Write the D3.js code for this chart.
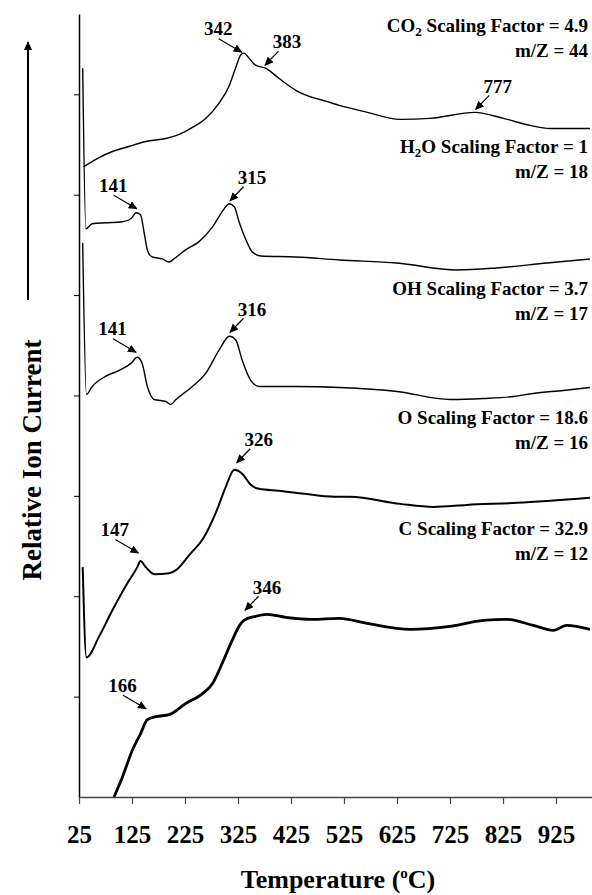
<!DOCTYPE html>
<html>
<head>
<meta charset="utf-8">
<script src="https://cdn.jsdelivr.net/npm/d3@7/dist/d3.min.js"></script>
<style>
  body { margin: 0; background: #fff; }
  text { font-family: "Liberation Serif", "Times New Roman", serif; font-weight: bold; fill: #000; }
</style>
</head>
<body>
<script>
// curves: [temperature (C), relative ion current incl. stacking offset]
var co2 = [[34,6.28],[63,6.37],[88,6.43],[119,6.48],[151,6.53],[189,6.56],[214,6.60],[239,6.67],[264,6.76],
  [289,6.91],[308,7.08],[321,7.27],[330,7.39],[336,7.41],[346,7.36],[358,7.29],[377,7.26],[402,7.16],[434,7.04],
  [465,6.97],[492,6.93],[516,6.89],[562,6.83],[631,6.75],[687,6.76],[772,6.82],[826,6.76],[876,6.69],[914,6.66],[989,6.66]];
var h2o = [[32,7.26],[38,5.66],[50,5.71],[75,5.72],[107,5.73],[123,5.76],[133,5.82],[141,5.80],[148,5.62],[154,5.45],
  [163,5.38],[182,5.36],[195,5.33],[204,5.36],[226,5.45],[251,5.53],[277,5.68],[299,5.86],[308,5.91],[318,5.88],
  [327,5.73],[340,5.55],[352,5.43],[368,5.39],[434,5.38],[516,5.35],[625,5.32],[738,5.25],[812,5.27],[908,5.32],[989,5.36]];
var oh = [[32,5.52],[39,4.01],[50,4.09],[75,4.19],[101,4.25],[123,4.32],[135,4.38],[144,4.32],[154,4.09],[167,3.96],
  [189,3.94],[198,3.91],[208,3.96],[239,4.09],[264,4.22],[289,4.45],[309,4.59],[321,4.55],[333,4.35],[349,4.15],
  [365,4.09],[434,4.09],[516,4.08],[625,4.04],[725,3.96],[788,3.97],[845,3.99],[882,4.02],[939,4.05],[989,4.08]];
var oxy = [[32,2.29],[39,1.39],[63,1.60],[88,1.86],[113,2.10],[135,2.29],[141,2.35],[151,2.29],[167,2.22],[195,2.23],
  [208,2.26],[233,2.41],[261,2.59],[283,2.83],[302,3.09],[318,3.26],[333,3.22],[349,3.11],[365,3.07],[402,3.05],
  [465,3.01],[516,2.99],[536,2.99],[631,2.92],[694,2.89],[757,2.91],[851,2.93],[989,2.98]];
var carb = [[91,0.0],[107,0.20],[126,0.47],[141,0.63],[154,0.77],[170,0.80],[195,0.82],[226,0.93],[258,1.03],
  [277,1.13],[295,1.33],[314,1.56],[327,1.70],[336,1.76],[358,1.80],[380,1.82],[415,1.79],[465,1.77],[516,1.78],
  [568,1.73],[650,1.67],[725,1.70],[788,1.76],[832,1.77],[882,1.71],[920,1.66],[945,1.71],[989,1.67]];

var xTicks = [25, 125, 225, 325, 425, 525, 625, 725, 825, 925];
var yTicks = [1, 2, 3, 4, 5, 6, 7];

// series labels
var specName = ["CO", "H", "OH", "O", "C"];
var specSub = ["2", "2", "", "", ""];
var specTail = ["", "O", "", "", ""];
var scaleFactor = ["4.9", "1", "3.7", "18.6", "32.9"];
var massCharge = ["44", "18", "17", "16", "12"];
var labelLevel = [7.62, 6.42, 5.00, 3.72, 2.61];

// peak annotations (arrow tip in data units)
var peakText = ["342", "383", "777", "141", "315", "141", "316", "326", "147", "346", "166"];
var peakT = [332, 376, 773.5, 134, 310, 132.6, 310, 322.6, 137, 338.3, 151.4];
var peakV = [7.42, 7.29, 6.85, 5.86, 5.94, 4.43, 4.63, 3.33, 2.43, 1.86, 0.88];
var peakSide = ["l", "r", "r", "l", "r", "l", "r", "r", "l", "r", "l"];

var svg = d3.select("body").append("svg")
  .attr("width", 592)
  .attr("height", 895);

var x = d3.scaleLinear().domain([25, 1000]).range([79, 595.75]);
var y = d3.scaleLinear().domain([0, 7.8]).range([797, 14]);

svg.append("defs").append("marker")
  .attr("id", "head")
  .attr("markerUnits", "userSpaceOnUse")
  .attr("markerWidth", 9).attr("markerHeight", 8)
  .attr("refX", 8).attr("refY", 4)
  .attr("orient", "auto")
  .append("path").attr("d", "M0,0L9,4L0,8Z").attr("fill", "#000");

// axes
var gy = svg.append("g")
  .attr("transform", "translate(79,0)")
  .call(d3.axisLeft(y).tickValues(yTicks).tickSize(5).tickSizeOuter(0).tickFormat(""));
gy.select(".domain").attr("stroke", "#000").attr("stroke-width", 1.5);
gy.selectAll(".tick line").attr("stroke", "#000");

var gx = svg.append("g")
  .attr("transform", "translate(0,797)")
  .call(d3.axisBottom(x).tickValues(xTicks).tickSizeInner(7).tickSizeOuter(0));
gx.select(".domain").attr("stroke", "#444").attr("stroke-width", 1.5);
gx.selectAll(".tick line").attr("stroke", "#444").attr("stroke-width", 1.2);
gx.selectAll(".tick text")
  .attr("y", 46).attr("dy", 0)
  .attr("font-size", 25)
  .attr("font-family", "Liberation Serif")
  .attr("font-weight", "bold")
  .attr("fill", "#000");

// curves
var line = d3.line()
  .x(function(d) { return x(d[0]); })
  .y(function(d) { return y(d[1]); })
  .curve(d3.curveMonotoneX);

var series = [co2, h2o, oh, oxy, carb];
var widths = [1.4, 1.4, 1.4, 2, 2.8];
series.forEach(function(s, i) {
  svg.append("path")
    .datum(s)
    .attr("d", line)
    .attr("fill", "none")
    .attr("stroke", "#000")
    .attr("stroke-width", widths[i])
    .attr("stroke-linejoin", "round");
});

// series labels
specName.forEach(function(n, i) {
  var t = svg.append("text")
    .attr("x", 588)
    .attr("y", y(labelLevel[i]))
    .attr("text-anchor", "end")
    .attr("font-size", 19);
  t.append("tspan").text(n);
  if (specSub[i]) {
    t.append("tspan").attr("font-size", 13).attr("dy", 4).text(specSub[i]);
    t.append("tspan").attr("dy", -4).text(specTail[i] + " Scaling Factor = " + scaleFactor[i]);
  } else {
    t.append("tspan").text(" Scaling Factor = " + scaleFactor[i]);
  }
  svg.append("text")
    .attr("x", 588)
    .attr("y", y(labelLevel[i]) + 25)
    .attr("text-anchor", "end")
    .attr("font-size", 19)
    .text("m/Z = " + massCharge[i]);
});

// peak arrows and numbers
peakText.forEach(function(p, i) {
  var tx = x(peakT[i]), ty = y(peakV[i]);
  var left = peakSide[i] == "l";
  var ax = left ? tx - 23 : tx + 13.5;
  var ay = left ? ty - 13.5 : ty - 14;
  svg.append("line")
    .attr("x1", ax).attr("y1", ay)
    .attr("x2", tx).attr("y2", ty)
    .attr("stroke", "#000")
    .attr("stroke-width", 1.2)
    .attr("marker-end", "url(#head)");
  svg.append("text")
    .attr("x", left ? tx - 23.5 : tx + 22)
    .attr("y", left ? ty - 17 : ty - 16.7)
    .attr("text-anchor", "middle")
    .attr("font-size", 19)
    .attr("font-weight", p == "777" ? "normal" : "bold")
    .text(p);
});

// axis titles
svg.append("text")
  .attr("transform", "translate(41,460) rotate(-90)")
  .attr("text-anchor", "middle")
  .attr("font-size", 27)
  .text("Relative Ion Current");

svg.append("line")
  .attr("x1", 28).attr("y1", 300)
  .attr("x2", 28).attr("y2", 42)
  .attr("stroke", "#000")
  .attr("stroke-width", 2)
  .attr("marker-end", "url(#head)");

var xt = svg.append("text")
  .attr("x", 338)
  .attr("y", 888)
  .attr("text-anchor", "middle")
  .attr("font-size", 26);
xt.append("tspan").text("Temperature (");
xt.append("tspan").attr("font-size", 15).attr("dy", -10).text("o");
xt.append("tspan").attr("dy", 10).text("C)");
</script>
</body>
</html>
